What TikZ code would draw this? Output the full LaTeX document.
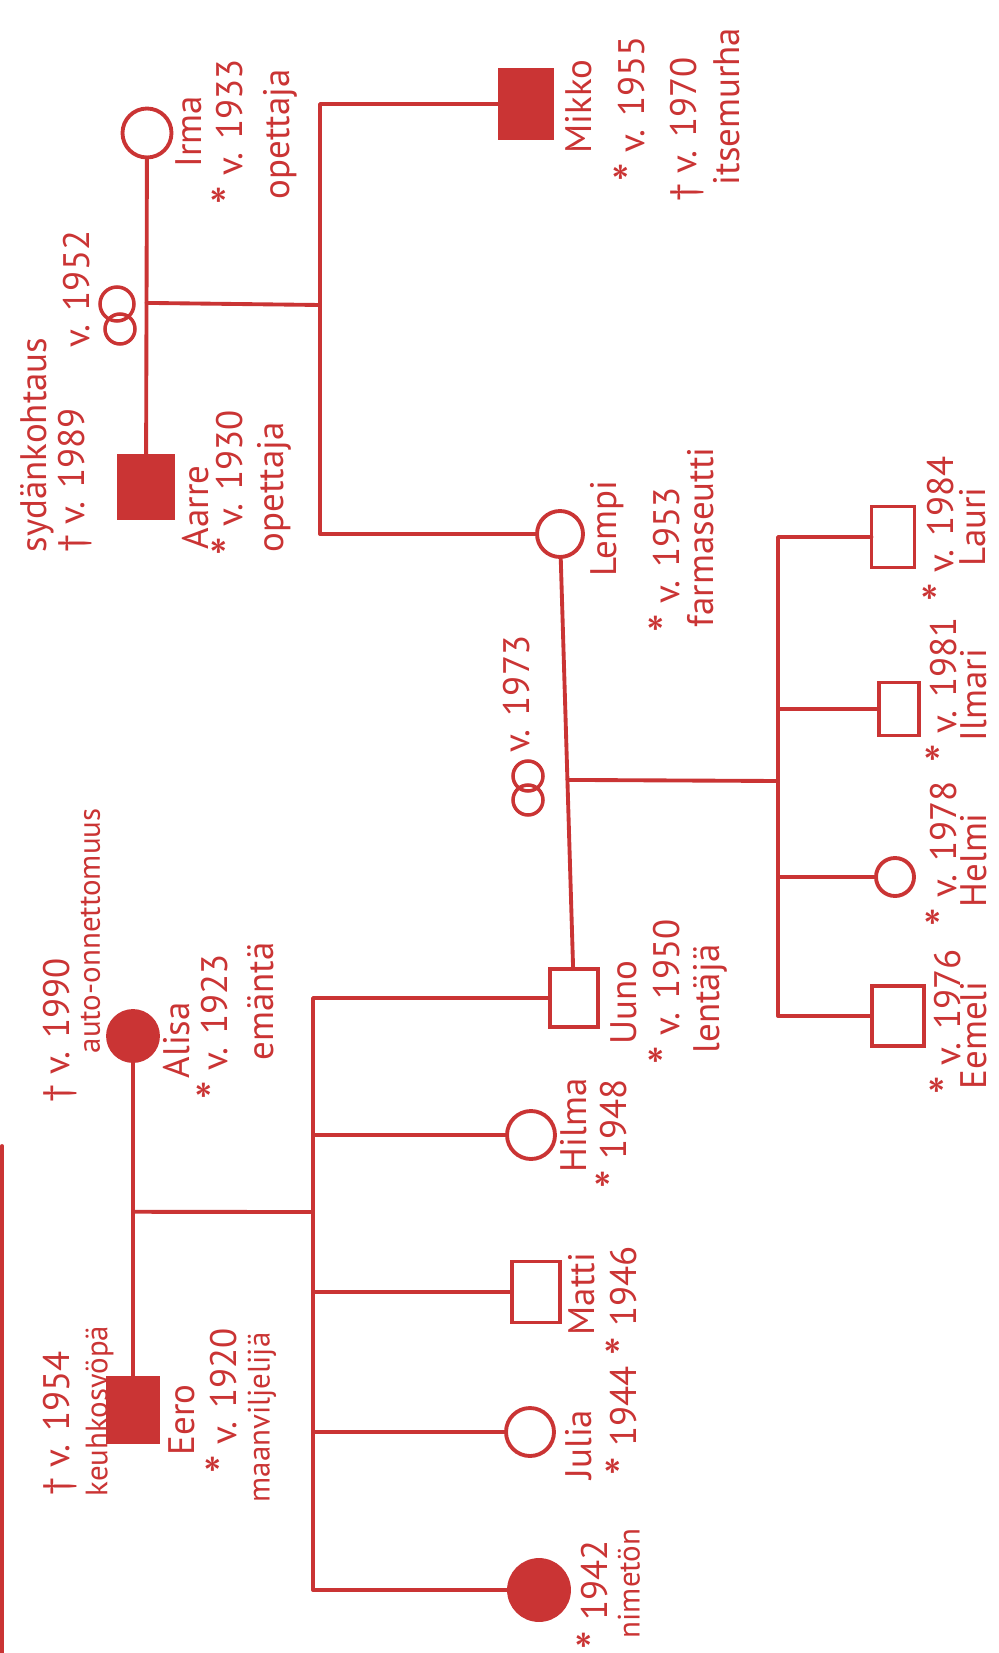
\documentclass[tikz,border=0pt]{standalone}
\usepackage{fontspec}
\setmainfont{PT Sans}
\usetikzlibrary{calc}
\definecolor{ink}{RGB}{202,52,52}
\newcommand{\bornStar}{\raisebox{-0.35ex}{\fontsize{15}{15}\selectfont *}}
\tikzstyle{edge}=[draw=ink, line width=1.1pt, line cap=round, line join=round]
\tikzstyle{maleV}=[rectangle, draw=ink, line width=1.1pt, minimum width=5mm, minimum height=6mm, inner sep=0pt, outer sep=0pt]
\tikzstyle{femaleV}=[circle, draw=ink, line width=1.1pt, minimum size=4.8mm, inner sep=0pt, outer sep=0pt]
\tikzstyle{deadV}=[fill=ink]
\tikzstyle{ringV}=[circle, draw=ink, line width=1pt, inner sep=0pt, outer sep=0pt]
\tikzstyle{txt}=[rotate=90, anchor=north west, inner sep=0pt, text=ink, font=\fontsize{10.5}{12}\selectfont]
\tikzstyle{txtS}=[txt, font=\fontsize{8.8}{10}\selectfont]

\begin{document}
\begin{tikzpicture}[x=0.1mm, y=-0.1mm]
      \useasboundingbox (0,0) rectangle (999,1653);
      % Aarre and Irma
      \node(irma) [femaleV, minimum size=4.9mm] at (147,133){};
      \node(aarre) [maleV, deadV, minimum width=5.5mm, minimum height=6.3mm] at (146,487){};
      \node(mikko) [maleV, deadV, minimum width=5.2mm, minimum height=6.8mm] at (526,104){};
      \node(lempi) [femaleV, minimum size=4.6mm] at (560,534){};
      \node(ring1a) [ringV, minimum size=3.4mm] at (117,304){};
      \node(ring1b) [ringV, minimum size=3.0mm] at (120,329){};
      % Eero and Alisa
      \node(alisa) [femaleV, deadV, minimum size=5mm] at (133,1036){};
      \node(eero) [maleV, deadV, minimum height=6.5mm] at (133,1410){};
      \node(uuno) [maleV, minimum width=4.8mm, minimum height=5.8mm] at (574,998){};
      \node(hilma) [femaleV] at (531,1135){};
      \node(matti) [maleV, minimum width=4.8mm, minimum height=6.1mm] at (536,1292){};
      \node(julia) [femaleV] at (530,1432){};
      \node(nimeton) [femaleV, deadV, minimum size=6mm] at (539,1590){};
      % Uuno and Lempi
      \node(ring2a) [ringV, minimum size=3.0mm] at (528,776){};
      \node(ring2b) [ringV, minimum size=3.0mm] at (528,800){};
      \node(lauri) [maleV, minimum width=4.3mm, minimum height=6.1mm] at (893,537){};
      \node(ilmari) [maleV, minimum width=4.0mm, minimum height=5.3mm] at (899,709){};
      \node(helmi) [femaleV, minimum size=3.8mm] at (895,877){};
      \node(eemeli) [maleV, minimum width=5.2mm, minimum height=6.0mm] at (898,1016){};

      \coordinate(m1) at ($(irma)!0.48!(aarre)$);
      \coordinate(b1) at (320,305);
      \coordinate(m2) at ($(alisa)!0.47!(eero)$);
      \coordinate(b2) at (313,1212);
      \coordinate(m3) at ($(lempi)!0.53!(uuno)$);
      \coordinate(b3) at (778,781);
      \coordinate(edgeTop) at (2,1146);
      \coordinate(edgeBot) at (2,1653);

      \draw[edge] (irma) to (aarre);
      \draw[edge] (m1) to (b1);
      \draw[edge] (mikko) -| (b1) |- (lempi);
      \draw[edge] (alisa) to (eero);
      \draw[edge] (m2) to (b2);
      \draw[edge] (uuno) -| (b2) |- (nimeton);
      \draw[edge] (b2 |- hilma) to (hilma);
      \draw[edge] (b2 |- matti) to (matti);
      \draw[edge] (b2 |- julia) to (julia);
      \draw[edge] (lempi) to (uuno);
      \draw[edge] (m3) to (b3);
      \draw[edge] (lauri) -| (b3) |- (eemeli);
      \draw[edge] (b3 |- ilmari) to (ilmari);
      \draw[edge] (b3 |- helmi) to (helmi);
      \draw[edge] (edgeTop) to (edgeBot);

      % texts, first generation
      \node(aarreCause) [txt] at (20,553){sydänkohtaus};
      \node(aarreDied) [txt] at (58,553){† v. 1989};
      \node(aarreName) [txt] at (182,550){Aarre};
      \node(aarreBorn) [txt] at (211,556){\bornStar\ v. 1930};
      \node(aarreJob) [txt] at (257,553){opettaja};
      \node(wed1) [txt] at (63,348){v. 1952};
      \node(irmaName) [txt] at (175,168){Irma};
      \node(irmaBorn) [txt] at (211,205){\bornStar\ v. 1933};
      \node(irmaJob) [txt] at (263,200){opettaja};
      \node(aliDied) [txt] at (43,1103){† v. 1990};
      \node(aliCause) [txtS] at (80,1054){auto-onnettomuus};
      \node(aliName) [txt] at (163,1079){Alisa};
      \node(aliBorn) [txt] at (196,1100){\bornStar\ v. 1923};
      \node(aliJob) [txt] at (247,1061){emäntä};
      \node(eeroDied) [txt] at (43,1496){† v. 1954};
      \node(eeroCause) [txtS] at (85,1497){keuhkosyöpä};
      \node(eeroName) [txt] at (168,1456){Eero};
      \node(eeroBorn) [txt] at (205,1474){\bornStar\ v. 1920};
      \node(eeroJob) [txtS] at (247,1503){maanviljelijä};
      % second generation
      \node(mikkoName) [txt] at (565,154){Mikko};
      \node(mikkoBorn) [txt] at (613,182){\bornStar\ v. 1955};
      \node(mikkoDied) [txt] at (670,202){† v. 1970};
      \node(mikkoCause) [txt] at (713,186){itsemurha};
      \node(lempiName) [txt] at (590,577){Lempi};
      \node(lempiBorn) [txt] at (648,633){\bornStar\ v. 1953};
      \node(lempiJob) [txt] at (687,628){farmaseutti};
      \node(wed2) [txt] at (503,753){v. 1973};
      \node(uunoName) [txt] at (610,1045){Uuno};
      \node(uunoBorn) [txt] at (648,1065){\bornStar\ v. 1950};
      \node(uunoJob) [txt] at (693,1054){lentäjä};
      \node(hilmaName) [txt] at (560,1173){Hilma};
      \node(hilmaBorn) [txt] at (595,1189){\bornStar\ 1948};
      \node(mattiName) [txt] at (568,1336){Matti};
      \node(mattiBorn) [txt] at (605,1356){\bornStar\ 1946};
      \node(juliaName) [txt] at (565,1480){Julia};
      \node(juliaBorn) [txt] at (605,1476){\bornStar\ 1944};
      \node(nimBorn) [txt] at (576,1650){\bornStar\ 1942};
      \node(nimName) [txtS] at (617,1639){nimetön};
      % third generation
      \node(lauriBorn) [txt] at (922,602){\bornStar\ v. 1984};
      \node(lauriName) [txt] at (959,567){Lauri};
      \node(ilmariBorn) [txt] at (925,763){\bornStar\ v. 1981};
      \node(ilmariName) [txt] at (960,742){Ilmari};
      \node(helmiBorn) [txt] at (925,927){\bornStar\ v. 1978};
      \node(helmiName) [txt] at (960,908){Helmi};
      \node(eemeliBorn) [txt] at (929,1095){\bornStar\ v. 1976};
      \node(eemeliName) [txt] at (960,1090){Eemeli};
\end{tikzpicture}
\end{document}
